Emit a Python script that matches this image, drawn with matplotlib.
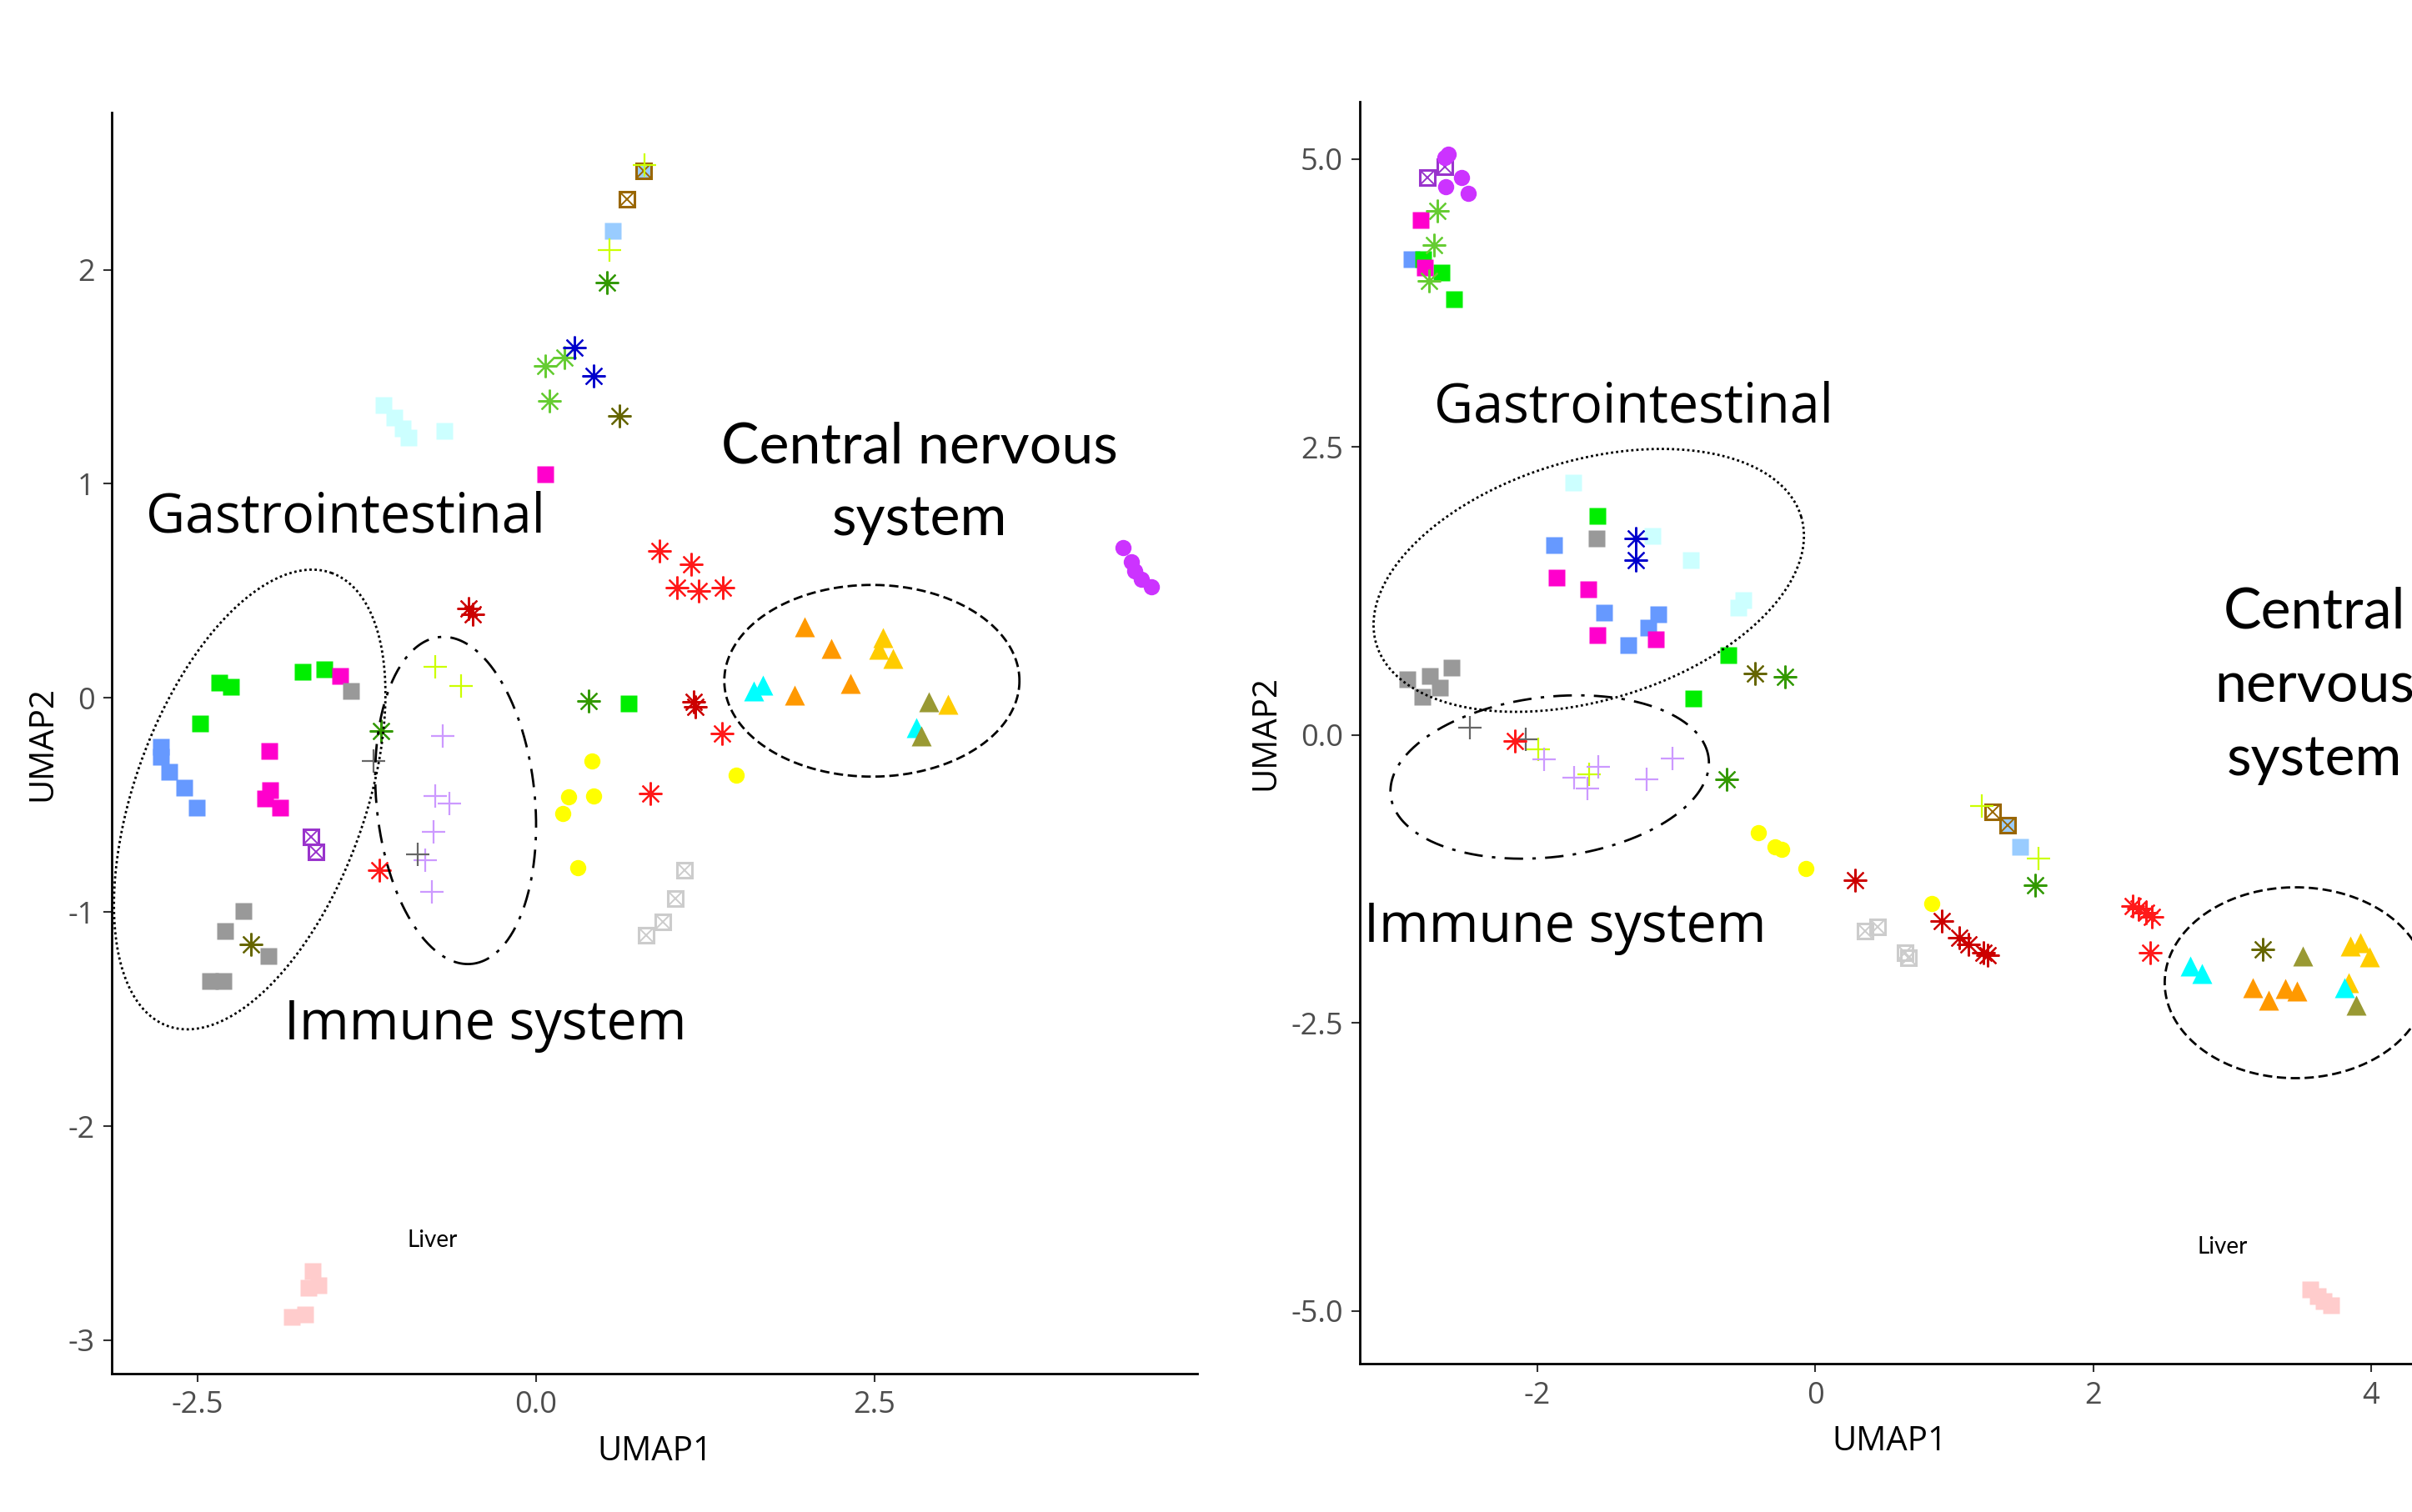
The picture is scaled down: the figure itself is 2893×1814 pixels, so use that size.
"""
Two UMAP panels with tissue groups circled (recreation)
"""

import matplotlib
matplotlib.use('Agg')
import matplotlib.pyplot as plt
import numpy as np

plt.rcParams['axes.unicode_minus'] = False

# ---------------- panel A (left UMAP) ----------------
blue_sq_a_x = [-2.767, -2.767, -2.709, -2.599, -2.505]
blue_sq_a_y = [-0.229, -0.274, -0.347, -0.419, -0.511]
green_sq_a_x = [-2.335, -2.253, -2.482, -1.724, -1.563, 0.683]
green_sq_a_y = [0.073, 0.052, -0.118, 0.121, 0.135, -0.025]
magenta_sq_a_x = [-1.446, -1.970, -1.960, -1.996, -1.886, 0.068]
magenta_sq_a_y = [0.104, -0.248, -0.430, -0.468, -0.511, 1.046]
gray_sq_a_x = [-1.364, -2.159, -2.293, -1.977, -2.405, -2.307]
gray_sq_a_y = [0.031, -0.997, -1.087, -1.206, -1.321, -1.321]
lcyan_sq_a_x = [-1.122, -1.042, -0.985, -0.940, -0.678]
lcyan_sq_a_y = [1.367, 1.308, 1.257, 1.215, 1.245]
lblue_sq_a_x = [0.569, 0.797]
lblue_sq_a_y = [2.18, 2.46]
pink_sq_a_x = [-1.651, -1.606, -1.680, -1.703, -1.805]
pink_sq_a_y = [-2.679, -2.743, -2.755, -2.878, -2.890]
purple_box_a_x = [-1.663, -1.626]
purple_box_a_y = [-0.650, -0.719]
brown_box_a_x = [0.797, 0.672]
brown_box_a_y = [2.46, 2.33]
lgray_box_a_x = [1.099, 1.031, 0.940, 0.814]
lgray_box_a_y = [-0.806, -0.937, -1.046, -1.110]
ygreen_plus_a_x = [0.803, 0.541, -0.744, -0.552]
ygreen_plus_a_y = [2.49, 2.09, 0.147, 0.057]
lav_plus_a_x = [-0.686, -0.744, -0.639, -0.756, -0.814, -0.767]
lav_plus_a_y = [-0.177, -0.459, -0.494, -0.624, -0.759, -0.905]
dgray_plus_a_x = [-1.200, -0.873]
dgray_plus_a_y = [-0.295, -0.731]
lgreen_ast_a_x = [0.068, 0.211, 0.103]
lgreen_ast_a_y = [1.549, 1.591, 1.388]
dgreen_ast_a_x = [0.524, -1.142, 0.393]
dgreen_ast_a_y = [1.94, -0.156, -0.013]
olive_ast_a_x = [0.615, -2.101]
olive_ast_a_y = [1.316, -1.153]
blue_ast_a_x = [0.285, 0.427]
blue_ast_a_y = [1.637, 1.502]
red_ast_a_x = [0.911, 1.150, 1.042, 1.202, 1.384, 1.378, 0.843, -1.153]
red_ast_a_y = [0.688, 0.624, 0.515, 0.498, 0.515, -0.165, -0.447, -0.806]
dred_ast_a_x = [-0.498, -0.463, 1.167, 1.179]
dred_ast_a_y = [0.416, 0.390, -0.017, -0.042]
yellow_pt_a_x = [0.416, 0.245, 0.427, 0.199, 0.308, 1.481]
yellow_pt_a_y = [-0.295, -0.464, -0.460, -0.540, -0.793, -0.359]
purple_pt_a_x = [4.334, 4.396, 4.425, 4.470, 4.544]
purple_pt_a_y = [0.700, 0.637, 0.591, 0.553, 0.519]
orange_tri_a_x = [1.982, 2.181, 2.323, 1.908]
orange_tri_a_y = [0.333, 0.232, 0.068, 0.013]
gold_tri_a_x = [2.563, 2.534, 2.637, 3.047]
gold_tri_a_y = [0.283, 0.228, 0.186, -0.030]
cyan_tri_a_x = [1.612, 1.680, 2.808]
cyan_tri_a_y = [0.034, 0.059, -0.139]
olive_tri_a_x = [2.904, 2.847]
olive_tri_a_y = [-0.017, -0.177]

# ---------------- panel B (right UMAP) ----------------
blue_sq_b_x = [-2.904, -1.881, -1.519, -1.346, -1.199, -1.131]
blue_sq_b_y = [4.127, 1.645, 1.059, 0.782, 0.929, 1.045]
green_sq_b_x = [-2.819, -2.690, -2.596, -1.568, -0.623, -0.877]
green_sq_b_y = [4.127, 4.012, 3.786, 1.898, 0.690, 0.320]
magenta_sq_b_x = [-2.838, -2.805, -1.860, -1.632, -1.568, -1.145]
magenta_sq_b_y = [4.473, 4.058, 1.368, 1.266, 0.865, 0.828]
gray_sq_b_x = [-1.573, -2.931, -2.824, -2.770, -2.698, -2.618]
gray_sq_b_y = [1.705, 0.482, 0.334, 0.514, 0.412, 0.583]
lcyan_sq_b_x = [-1.739, -1.171, -0.896, -0.555, -0.515]
lcyan_sq_b_y = [2.189, 1.727, 1.520, 1.105, 1.174]
lblue_sq_b_x = [1.475, 1.387]
lblue_sq_b_y = [-0.973, -0.784]
pink_sq_b_x = [3.560, 3.615, 3.659, 3.714]
pink_sq_b_y = [-4.816, -4.871, -4.918, -4.949]
purple_box_b_x = [-2.792, -2.663]
purple_box_b_y = [4.842, 4.935]
brown_box_b_x = [1.276, 1.387]
brown_box_b_y = [-0.667, -0.784]
lgray_box_b_x = [0.358, 0.451, 0.649, 0.671]
lgray_box_b_y = [-1.702, -1.663, -1.890, -1.937]
ygreen_plus_b_x = [1.199, 1.607, -1.994, -1.627]
ygreen_plus_b_y = [-0.620, -1.075, -0.127, -0.340]
lav_plus_b_x = [-1.948, -1.734, -1.640, -1.560, -1.212, -1.024]
lav_plus_b_y = [-0.211, -0.372, -0.465, -0.280, -0.386, -0.201]
dgray_plus_b_x = [-2.484, -2.082]
dgray_plus_b_y = [0.067, -0.035]
lgreen_ast_b_x = [-2.717, -2.744, -2.779]
lgreen_ast_b_y = [4.551, 4.256, 3.943]
dgreen_ast_b_x = [1.585, -0.215, -0.636]
dgreen_ast_b_y = [-1.302, 0.504, -0.386]
olive_ast_b_x = [3.219, -0.435]
olive_ast_b_y = [-1.859, 0.537]
blue_ast_b_x = [-1.292, -1.292]
blue_ast_b_y = [1.705, 1.520]
red_ast_b_x = [-2.163, 2.283, 2.327, 2.377, 2.421, 2.410]
red_ast_b_y = [-0.049, -1.482, -1.506, -1.545, -1.576, -1.890]
dred_ast_b_x = [0.288, 0.908, 1.034, 1.100, 1.210, 1.238]
dred_ast_b_y = [-1.263, -1.616, -1.757, -1.820, -1.890, -1.914]
yellow_pt_b_x = [-0.409, -0.288, -0.240, -0.066, 0.836]
yellow_pt_b_y = [-0.847, -0.972, -0.995, -1.156, -1.467]
purple_pt_b_x = [-2.663, -2.640, -2.543, -2.658, -2.497]
purple_pt_b_y = [5.013, 5.040, 4.842, 4.759, 4.700]
orange_tri_b_x = [3.147, 3.263, 3.384, 3.466]
orange_tri_b_y = [-2.196, -2.306, -2.204, -2.220]
gold_tri_b_x = [3.852, 3.923, 3.989, 3.840]
gold_tri_b_y = [-1.835, -1.804, -1.929, -2.149]
cyan_tri_b_x = [2.696, 2.779, 3.807]
cyan_tri_b_y = [-2.008, -2.071, -2.196]
olive_tri_b_x = [3.505, 3.890]
olive_tri_b_y = [-1.922, -2.345]

# marker kind and colour of each group (drawing order)
STYLE = {
    'blue_sq': ('square', '#6699FF'),
    'green_sq': ('square', '#00EE00'),
    'magenta_sq': ('square', '#FF00CC'),
    'gray_sq': ('square', '#999999'),
    'lcyan_sq': ('square', '#CCFFFF'),
    'lblue_sq': ('square', '#99CCFF'),
    'pink_sq': ('square', '#FFCCCC'),
    'purple_box': ('box', '#9933CC'),
    'brown_box': ('box', '#996600'),
    'lgray_box': ('box', '#CCCCCC'),
    'ygreen_plus': ('plus', '#CCFF00'),
    'lav_plus': ('plus', '#CC99FF'),
    'dgray_plus': ('plus', '#666666'),
    'lgreen_ast': ('ast', '#66CC33'),
    'dgreen_ast': ('ast', '#339900'),
    'olive_ast': ('ast', '#666600'),
    'blue_ast': ('ast', '#0000CC'),
    'red_ast': ('ast', '#FF1A1A'),
    'dred_ast': ('ast', '#CC0000'),
    'orange_tri': ('tri', '#FF9900'),
    'gold_tri': ('tri', '#FFCC00'),
    'cyan_tri': ('tri', '#00FFFF'),
    'olive_tri': ('tri', '#999933'),
    'yellow_pt': ('circle', '#FFFF00'),
    'purple_pt': ('circle', '#CC33FF'),
}


def panel_data(suffix):
    g = globals()
    return {k: (g[f'{k}_{suffix}_x'], g[f'{k}_{suffix}_y']) for k in STYLE}


def draw_group(ax, xs, ys, kind, color):
    if kind == 'square':
        ax.plot(xs, ys, 's', ms=13.8, color=color, mec='none')
    elif kind == 'circle':
        ax.plot(xs, ys, 'o', ms=14, color=color, mec='none')
    elif kind == 'tri':
        ax.plot(xs, ys, '^', ms=17.5, color=color, mec='none')
    elif kind == 'plus':
        ax.plot(xs, ys, '+', ms=20, color=color, mew=1.6)
    elif kind == 'ast':
        ax.plot(xs, ys, marker=(8, 2, 0), ls='none', ms=20, color=color, mew=1.6)
    elif kind == 'box':
        ax.plot(xs, ys, 's', ms=13.5, mfc='none', mec=color, mew=2.2)
        ax.plot(xs, ys, 'x', ms=12, color=color, mew=1.4)


def ring(ax, cx, cy, a, b, ang, ls, lw=2.0):
    """Ellipse centred on a data point, axes given in output pixels"""
    t = np.linspace(0, 2 * np.pi, 400)
    th = np.radians(ang)
    u, v = a * np.cos(t), b * np.sin(t)
    px = u * np.cos(th) - v * np.sin(th)
    py = u * np.sin(th) + v * np.cos(th)
    x0, y0 = ax.transData.transform((cx, cy))
    pts = ax.transData.inverted().transform(np.column_stack([x0 + px, y0 + py]))
    ax.plot(pts[:, 0], pts[:, 1], ls=ls, color='black', lw=lw, clip_on=False)


def style_axes(ax):
    for side in ['top', 'right']:
        ax.spines[side].set_visible(False)
    for side in ['left', 'bottom']:
        ax.spines[side].set_linewidth(2.0)
        ax.spines[side].set_color('black')
    ax.tick_params(length=7.2, width=1.5, color='#333333', labelcolor='#4D4D4D',
                   labelsize=26, pad=7.5)
    for lab in ax.get_xticklabels() + ax.get_yticklabels():
        lab.set_family('Open Sans')
    ax.set_xlabel('UMAP1', fontsize=29, family='Open Sans', labelpad=12)
    ax.set_ylabel('UMAP2', fontsize=29, family='Open Sans', labelpad=7)


BIG = dict(fontsize=46.5, family='Open Sans', ha='center', va='baseline')
CNS = dict(fontsize=49, family='Lato', ha='center', va='baseline')
SMALL = dict(fontsize=20, family='Lato', ha='center', va='baseline')

fig = plt.figure(figsize=(28.93, 18.14), dpi=100)

# --- panel A ---
ax_a = fig.add_axes([134 / 2893, 1 - 1648 / 1814, 1302 / 2893, 1513 / 1814])
ax_a.set_xlim(-3.132, 4.885)
ax_a.set_ylim(-3.156, 2.734)
for name, (xs, ys) in panel_data('a').items():
    draw_group(ax_a, xs, ys, *STYLE[name])
ax_a.set_xticks([-2.5, 0.0, 2.5], ['-2.5', '0.0', '2.5'])
ax_a.set_yticks([-3, -2, -1, 0, 1, 2], ['-3', '-2', '-1', '0', '1', '2'])
style_axes(ax_a)

ring(ax_a, -2.113, -0.4745, 289, 138, 70.1, (0, (1, 1.2)))
ring(ax_a, -0.592, -0.479, 197, 95, -84.4, (0, (8, 4, 1.5, 4)))
ring(ax_a, 2.482, 0.080, 177, 115, 0, (0, (4, 2)))

ax_a.text(-1.407, 0.772, 'Gastrointestinal', **BIG)
ax_a.text(-0.370, -1.595, 'Immune system', **BIG)
ax_a.text(2.836, 1.097, 'Central nervous', **CNS)
ax_a.text(2.836, 0.759, 'system', **CNS)
ax_a.text(-0.763, -2.565, 'Liver', **SMALL)

# --- panel B ---
ax_b = fig.add_axes([1631.3 / 2893, 1 - 1636.3 / 1814, 1270 / 2893, 1514.6 / 1814])
ax_b.set_xlim(-3.274, 4.343)
ax_b.set_ylim(-5.46, 5.50)
for name, (xs, ys) in panel_data('b').items():
    draw_group(ax_b, xs, ys, *STYLE[name])
ax_b.set_xticks([-2, 0, 2, 4], ['-2', '0', '2', '4'])
ax_b.set_yticks([-5, -2.5, 0, 2.5, 5], ['-5.0', '-2.5', '0.0', '2.5', '5.0'])
style_axes(ax_b)

ring(ax_b, -1.629, 1.342, 266, 144, 16.7, (0, (1, 1.2)))
ring(ax_b, -1.910, -0.365, 192, 96, 6.8, (0, (8, 4, 1.5, 4)))
ring(ax_b, 3.456, -2.151, 157, 114.5, 0, (0, (4, 2)))

ax_b.text(-1.304, 2.714, 'Gastrointestinal', **BIG)
ax_b.text(-1.799, -1.796, 'Immune system', **BIG)
ax_b.text(3.590, 0.929, 'Central', **CNS)
ax_b.text(3.590, 0.282, 'nervous', **CNS)
ax_b.text(3.590, -0.350, 'system', **CNS)
ax_b.text(2.927, -4.502, 'Liver', **SMALL)

fig.savefig('out.png', dpi=100, facecolor='white')
plt.close(fig)
